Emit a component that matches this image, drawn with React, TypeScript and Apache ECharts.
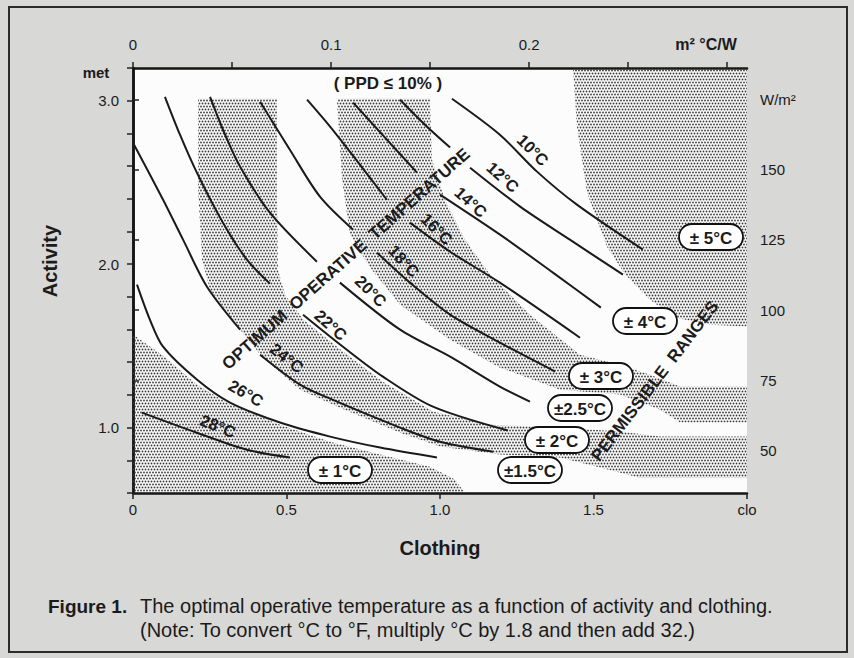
import React, { useEffect, useRef } from "react";
import * as echarts from "echarts";

const FONT = '"Liberation Sans", Arial, Helvetica, sans-serif';
const INK = "#1b1b1b";

// ---------- axes ----------
const CLO_MIN = 0;
const CLO_MAX = 2.0;
const MET_MIN = 0.6;
const MET_MAX = 3.2;
const W_PER_MET = 58.2; // 1 met = 58.2 W/m²
const M2CW_PER_CLO = 0.155; // 1 clo = 0.155 m²°C/W
const CLO_TICKS = [0, 0.5, 1.0, 1.5, 2.0];
const MET_TICKS = [0.6, 0.8, 1.0, 1.2, 1.4, 1.6, 1.8, 2.0, 2.2, 2.4, 2.6, 2.8, 3.0, 3.2];
const MET_LABELS = [1.0, 2.0, 3.0];
const WM2_TICKS = [50, 75, 100, 125, 150, 175];
const RES_TICKS = [0, 0.05, 0.1, 0.15, 0.2, 0.25, 0.3];
const RES_LABELS = [0, 0.1, 0.2];

// ---------- iso optimum-operative-temperature curves [clo, met] ----------
// (segments are interrupted where the diagonal caption crosses them)
const T10 = [[[1.039, 3.012], [1.195, 2.792], [1.316, 2.566], [1.446, 2.364], [1.661, 2.089]]];
const T12 = [
  [[0.870, 3.006], [0.951, 2.853], [1.033, 2.713]],
  [[1.098, 2.590], [1.261, 2.352], [1.423, 2.150], [1.596, 1.936]],
];
const T14 = [
  [[0.717, 2.988], [0.821, 2.774], [0.925, 2.560]],
  [[1.0, 2.425], [1.205, 2.168], [1.368, 1.948], [1.524, 1.734]],
];
const T16 = [
  [[0.567, 3.006], [0.642, 2.841], [0.739, 2.609], [0.827, 2.394]],
  [[0.902, 2.254], [1.033, 2.076], [1.195, 1.887], [1.456, 1.550]],
];
const T18 = [
  [[0.414, 2.994], [0.511, 2.700], [0.609, 2.413], [0.717, 2.211]],
  [[0.795, 2.070], [0.902, 1.887], [1.033, 1.691], [1.195, 1.520], [1.375, 1.343]],
];
const T20 = [
  [[0.251, 3.024], [0.300, 2.792], [0.349, 2.596], [0.446, 2.315], [0.599, 2.015]],
  [[0.674, 1.887], [0.870, 1.599], [1.033, 1.434], [1.195, 1.251], [1.293, 1.159]],
];
const T22 = [
  [[0.104, 3.024], [0.153, 2.792], [0.208, 2.560], [0.293, 2.254], [0.371, 2.028], [0.446, 1.881]],
  [[0.554, 1.691], [0.684, 1.495], [0.814, 1.312], [0.977, 1.128], [1.221, 0.982]],
];
const T24 = [
  [[0.0, 2.743], [0.098, 2.394], [0.163, 2.150], [0.241, 1.862], [0.349, 1.599]],
  [[0.414, 1.446], [0.544, 1.263], [0.642, 1.177], [0.870, 1.0], [1.0, 0.914], [1.173, 0.853]],
];
const T26 = [[[0.013, 1.875], [0.055, 1.661], [0.098, 1.495], [0.208, 1.294], [0.316, 1.153], [0.479, 1.031], [0.642, 0.945], [0.805, 0.878], [0.990, 0.817]]];
const T28 = [[[0.029, 1.092], [0.208, 0.969], [0.371, 0.865], [0.511, 0.817]]];
const CURVES = [T10, T12, T14, T16, T18, T20, T22, T24, T26, T28];
const TEMP_LABELS = ["10°C", "12°C", "14°C", "16°C", "18°C", "20°C", "22°C", "24°C", "26°C", "28°C"];

// ---------- permissible-range bands (stippled) [clo, met] ----------
const BAND_1C = [[0, 1.569], [0.098, 1.440], [0.208, 1.263], [0.316, 1.141], [0.479, 1.018], [0.642, 0.914], [0.805, 0.835], [0.967, 0.761], [1.049, 0.682], [1.081, 0.6], [0, 0.6]];
const BAND_2C = [[0.212, 3.012], [0.212, 2.456], [0.225, 2.028], [0.251, 1.844], [0.349, 1.599], [0.420, 1.434], [0.544, 1.232], [0.674, 1.122], [0.870, 0.969], [1.0, 0.884], [1.195, 0.835], [1.391, 0.817], [1.521, 0.756], [1.651, 0.694], [2.0, 0.694], [2.0, 0.945], [1.717, 0.945], [1.586, 0.976], [1.391, 1.0], [1.163, 1.018], [0.977, 1.098], [0.814, 1.281], [0.684, 1.465], [0.554, 1.661], [0.495, 1.813], [0.472, 1.966], [0.469, 2.394], [0.469, 3.012]];
const BAND_3C = [[0.664, 3.012], [0.681, 2.517], [0.707, 2.180], [0.772, 1.979], [0.870, 1.752], [1.033, 1.538], [1.195, 1.367], [1.391, 1.232], [1.586, 1.202], [1.717, 1.110], [1.782, 1.031], [2.0, 1.031], [2.0, 1.251], [1.782, 1.251], [1.684, 1.324], [1.586, 1.385], [1.456, 1.446], [1.293, 1.691], [1.163, 1.936], [1.081, 2.150], [1.016, 2.394], [0.974, 2.639], [0.967, 3.012]];
const BAND_5C = [[1.433, 3.2], [1.446, 2.841], [1.479, 2.437], [1.544, 2.107], [1.603, 1.936], [1.684, 1.783], [1.765, 1.673], [1.879, 1.630], [2.0, 1.618], [2.0, 3.2]];
const BANDS = [BAND_1C, BAND_2C, BAND_3C, BAND_5C];
const RANGE_LABELS = ["± 1°C", "±1.5°C", "± 2°C", "±2.5°C", "± 3°C", "± 4°C", "± 5°C"];

// ---------- layout of annotations (pixels) ----------
const TEMP_LABEL_LAYOUT = [
  [533, 150, -45], [503, 177, -42], [471, 202, -42], [437, 229, -45], [404, 261, -48],
  [371, 291, -45], [331, 325, -42], [287, 358, -38], [246, 393, -30], [218, 426, -22],
];
const RANGE_LAYOUT = [[340, 470], [530, 470], [557, 440], [580, 408], [601, 376], [645, 321], [711, 237]];

export default function App() {
  const ref = useRef<HTMLDivElement>(null);

  useEffect(() => {
    if (!ref.current) return;
    const chart = echarts.init(ref.current, null, { renderer: "svg" });

    const tile = document.createElement("canvas");
    tile.width = 6;
    tile.height = 6;
    const ctx = tile.getContext("2d")!;
    ctx.fillStyle = "#3c3c3c";
    [[1.5, 1.5], [4.5, 1.5], [0, 4.5], [3, 4.5], [6, 4.5]].forEach(([x, y]) => {
      ctx.beginPath();
      ctx.arc(x, y, 0.9, 0, Math.PI * 2);
      ctx.fill();
    });
    const stipple: any = { image: tile, repeat: "repeat", imageWidth: 6, imageHeight: 6 };

    const deg = (d: number) => (d * Math.PI) / 180;
    const txt = (text: string, x: number, y: number, font: string, extra: any = {}) => ({
      type: "text",
      x,
      y,
      z: 100,
      silent: true,
      ...extra,
      style: { text, font, fill: INK, align: "center", verticalAlign: "middle", ...(extra.style || {}) },
    });

    const graphics: any[] = [];
    // frame
    graphics.push({
      type: "rect",
      z: 100,
      silent: true,
      shape: { x: 9, y: 7, width: 838, height: 645 },
      style: { fill: "none", stroke: "#2b2b2b", lineWidth: 2 },
    });
    graphics.push(txt("( PPD ≤ 10% )", 388, 83, `bold 17px ${FONT}`));
    graphics.push(
      txt("OPTIMUM  OPERATIVE  TEMPERATURE", 346, 259, `bold 17px ${FONT}`, { rotation: deg(41.5) })
    );
    graphics.push(txt("PERMISSIBLE  RANGES", 655, 381, `bold 17px ${FONT}`, { rotation: deg(52.5) }));
    TEMP_LABELS.forEach((t, i) => {
      const [x, y, r] = TEMP_LABEL_LAYOUT[i];
      graphics.push(txt(t, x, y, `bold 16.5px ${FONT}`, { rotation: deg(r) }));
    });
    RANGE_LABELS.forEach((t, i) => {
      const [x, y] = RANGE_LAYOUT[i];
      graphics.push({
        type: "group",
        x,
        y,
        z: 110,
        silent: true,
        children: [
          {
            type: "rect",
            z: 110,
            shape: { x: -32, y: -13, width: 64, height: 26, r: 13 },
            style: { fill: "#ffffff", stroke: "#111", lineWidth: 1.8 },
          },
          {
            type: "text",
            z: 111,
            style: { text: t, x: 0, y: 1, font: `bold 17px ${FONT}`, fill: INK, align: "center", verticalAlign: "middle" },
          },
        ],
      });
    });
    graphics.push(txt("met", 96, 72, `bold 15px ${FONT}`));
    graphics.push(txt("m² °C/W", 706, 44, `bold 16px ${FONT}`));
    graphics.push(txt("Activity", 50, 261, `bold 20px ${FONT}`, { rotation: deg(90) }));
    graphics.push(txt("Clothing", 440, 548, `bold 20px ${FONT}`));
    graphics.push(txt("Figure 1.", 48, 606, `bold 19px ${FONT}`, { style: { align: "left" } }));
    graphics.push(
      txt("The optimal operative temperature as a function of activity and clothing.", 140, 606, `20px ${FONT}`, {
        style: { align: "left" },
      })
    );
    graphics.push(
      txt("(Note: To convert °C to °F, multiply °C by 1.8 and then add 32.)", 140, 630, `20px ${FONT}`, {
        style: { align: "left" },
      })
    );

    const axisLine = { show: true, lineStyle: { color: "#141414", width: 2.5 } };
    const tickStyle = { color: "#222", width: 1.5 };
    const labelStyle = { color: INK, fontSize: 15, fontFamily: FONT };

    const lineSeries: any[] = [];
    CURVES.forEach((segs) =>
      segs.forEach((seg) =>
        lineSeries.push({
          type: "line",
          xAxisIndex: 0,
          yAxisIndex: 0,
          data: seg,
          smooth: 0.3,
          symbol: "none",
          silent: true,
          z: 5,
          lineStyle: { color: "#1a1a1a", width: 2 },
        })
      )
    );

    const option: any = {
      animation: false,
      backgroundColor: "#d8d8d6",
      grid: { left: 133, top: 68, width: 614, height: 425, show: true, backgroundColor: "#fcfcfc", borderWidth: 0 },
      xAxis: [
        {
          type: "value",
          position: "bottom",
          min: CLO_MIN,
          max: CLO_MAX,
          axisLine,
          splitLine: { show: false },
          axisTick: { show: true, customValues: CLO_TICKS, length: 6, lineStyle: tickStyle },
          axisLabel: {
            ...labelStyle,
            customValues: CLO_TICKS,
            margin: 9,
            formatter: (v: number) => (v === 2 ? "clo" : v === 0 ? "0" : v.toFixed(1)),
          },
        },
        {
          type: "value",
          position: "top",
          min: 0,
          max: CLO_MAX * M2CW_PER_CLO,
          axisLine,
          splitLine: { show: false },
          axisTick: { show: true, customValues: RES_TICKS, length: 6, lineStyle: tickStyle },
          axisLabel: {
            ...labelStyle,
            customValues: RES_LABELS,
            margin: 16,
            formatter: (v: number) => (v === 0 ? "0" : String(v)),
          },
        },
      ],
      yAxis: [
        {
          type: "value",
          position: "left",
          min: MET_MIN,
          max: MET_MAX,
          axisLine,
          splitLine: { show: false },
          axisTick: { show: true, customValues: MET_TICKS, length: 6, lineStyle: tickStyle },
          axisLabel: {
            ...labelStyle,
            customValues: MET_LABELS,
            margin: 14,
            formatter: (v: number) => v.toFixed(1),
          },
        },
        {
          type: "value",
          position: "right",
          min: MET_MIN * W_PER_MET,
          max: MET_MAX * W_PER_MET,
          axisLine,
          splitLine: { show: false },
          axisTick: { show: true, customValues: WM2_TICKS, length: 6, lineStyle: tickStyle },
          axisLabel: {
            ...labelStyle,
            customValues: WM2_TICKS,
            margin: 13,
            formatter: (v: number) => (v === 175 ? "W/m²" : String(v)),
          },
        },
      ],
      series: [
        {
          type: "custom",
          xAxisIndex: 0,
          yAxisIndex: 0,
          silent: true,
          z: 1,
          data: BANDS.map((b, i) => [b[0][0], b[0][1], i]),
          renderItem: (params: any, api: any) => {
            const poly = BANDS[params.dataIndex];
            return {
              type: "polygon",
              shape: { points: poly.map((p) => api.coord(p)) },
              style: { fill: stipple, stroke: "none" },
            };
          },
        },
        ...lineSeries,
      ],
      graphic: { elements: graphics },
    };

    chart.setOption(option);
    return () => chart.dispose();
  }, []);

  return <div ref={ref} style={{ position: "absolute", left: 0, top: 0, width: 854, height: 658 }} />;
}
